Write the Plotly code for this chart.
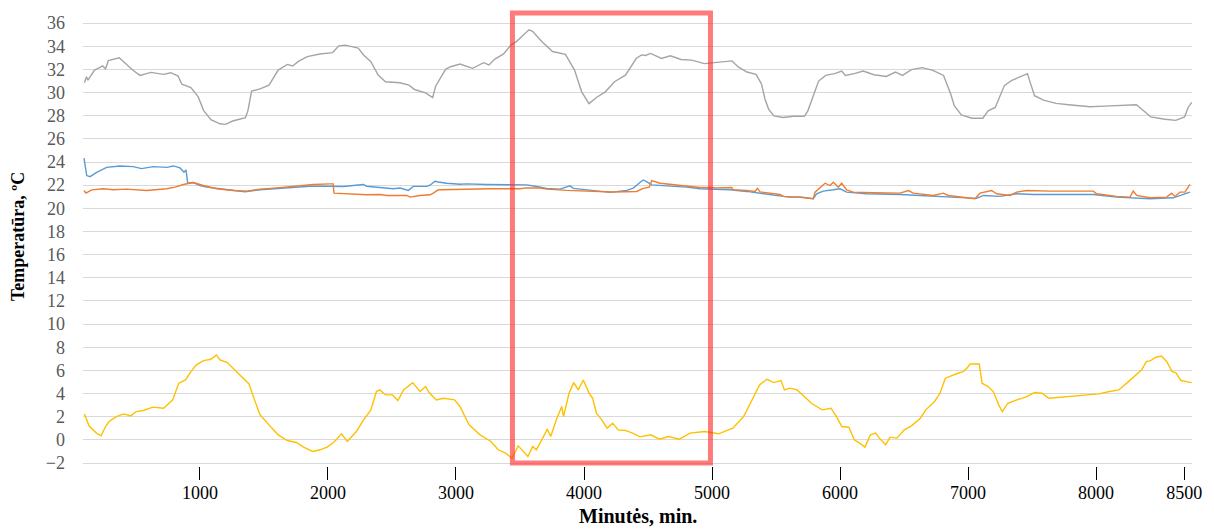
import plotly.graph_objects as go

# ---- data (minutes, temperature °C) ----
GRAY_T = [97, 113, 125, 176, 219, 238, 262, 284, 369, 403, 474, 531, 616, 716, 773, 829, 858, 929, 986, 1028,
          1085, 1156, 1199, 1255, 1355, 1375, 1403, 1469, 1539, 1611, 1682, 1724, 1766, 1838, 1937, 2036, 2085,
          2136, 2236, 2278, 2335, 2392, 2449, 2562, 2633, 2676, 2762, 2818, 2841, 2918, 2959, 3031, 3130, 3215,
          3258, 3301, 3372, 3430, 3472, 3570, 3598, 3670, 3754, 3855, 3926, 3982, 4039, 4097, 4167, 4238, 4324,
          4409, 4451, 4480, 4521, 4605, 4675, 4758, 4842, 4940, 5051, 5156, 5205, 5273, 5344, 5386, 5414, 5442,
          5484, 5554, 5638, 5721, 5749, 5790, 5833, 5888, 5958, 6014, 6041, 6112, 6181, 6265, 6362, 6433, 6488,
          6558, 6641, 6726, 6809, 6865, 6893, 6948, 7031, 7116, 7157, 7213, 7284, 7339, 7395, 7465, 7485, 7520,
          7590, 7688, 7786, 7953, 8065, 8204, 8316, 8372, 8427, 8539, 8623, 8692, 8720, 8748]
GRAY_V = [30.84, 31.36, 31.07, 31.94, 32.17, 32.3, 32.06, 32.75, 33.0, 32.67, 31.94, 31.48, 31.74, 31.57, 31.71,
          31.42, 30.72, 30.43, 29.62, 28.46, 27.65, 27.3, 27.25, 27.54, 27.83, 28.46, 30.12, 30.32, 30.64, 31.94,
          32.43, 32.29, 32.67, 33.1, 33.33, 33.45, 34.03, 34.09, 33.83, 33.25, 32.67, 31.51, 30.93, 30.84, 30.64,
          30.26, 29.97, 29.57, 30.55, 32.0, 32.23, 32.46, 32.09, 32.58, 32.38, 32.87, 33.33, 34.12, 34.4, 35.42,
          35.28, 34.4, 33.54, 33.3, 31.94, 30.06, 29.04, 29.57, 30.06, 30.93, 31.5, 32.96, 33.25, 33.2, 33.38,
          32.94, 33.17, 32.85, 32.8, 32.5, 32.59, 32.73, 32.21, 31.77, 31.57, 30.75, 29.44, 28.57, 27.98, 27.84,
          27.95, 27.95, 28.42, 29.73, 30.99, 31.48, 31.63, 31.86, 31.48, 31.63, 31.86, 31.54, 31.39, 31.77, 31.48,
          31.98, 32.15, 31.92, 31.48, 29.88, 28.86, 28.07, 27.78, 27.78, 28.42, 28.71, 30.6, 31.04, 31.33, 31.63,
          30.9, 29.73, 29.35, 29.06, 28.94, 28.77, 28.83, 28.86, 28.94, 28.42, 27.9, 27.69, 27.6, 27.9, 28.71,
          29.15]

BLUE_T = [94, 115, 141, 193, 271, 375, 479, 543, 635, 740, 792, 844, 875, 891, 904, 948, 1000, 1052, 1156, 1260,
          1352, 1469, 1599, 1729, 1859, 1990, 2120, 2276, 2302, 2406, 2510, 2562, 2615, 2628, 2666, 2771, 2797,
          2836, 2862, 2927, 3031, 3083, 3240, 3396, 3552, 3630, 3708, 3812, 3890, 3917, 4047, 4203, 4333, 4385,
          4437, 4463, 4489, 4529, 4646, 4802, 4906, 4958, 5141, 5271, 5349, 5401, 5531, 5600, 5688, 5791, 5817,
          5869, 5948, 6000, 6052, 6208, 6469, 6729, 6988, 7068, 7120, 7250, 7380, 7510, 7771, 7979, 8161, 8422,
          8604, 8708, 8734]
BLUE_V = [24.34, 22.83, 22.74, 23.11, 23.54, 23.66, 23.6, 23.43, 23.6, 23.54, 23.66, 23.49, 23.11, 23.31, 22.17,
          22.23, 21.97, 21.83, 21.69, 21.54, 21.43, 21.6, 21.69, 21.83, 21.91, 21.91, 21.89, 22.06, 21.91, 21.8,
          21.69, 21.75, 21.6, 21.55, 21.9, 21.9, 22.0, 22.34, 22.28, 22.17, 22.08, 22.11, 22.06, 22.03, 22.03,
          21.89, 21.72, 21.66, 21.94, 21.72, 21.55, 21.38, 21.55, 21.75, 22.23, 22.45, 22.31, 22.03, 21.94, 21.83,
          21.69, 21.68, 21.6, 21.46, 21.35, 21.3, 21.1, 20.97, 20.99, 20.83, 21.26, 21.49, 21.6, 21.69, 21.4,
          21.26, 21.2, 21.03, 20.86, 20.86, 21.11, 21.03, 21.26, 21.2, 21.2, 21.2, 20.97, 20.83, 20.91, 21.26,
          21.4]

ORANGE_T = [94, 109, 154, 245, 323, 427, 583, 740, 805, 870, 948, 1026, 1130, 1260, 1365, 1469, 1599, 1729, 1885,
            2016, 2040, 2047, 2172, 2302, 2406, 2459, 2615, 2641, 2719, 2797, 2823, 2862, 2887, 3057, 3266, 3500,
            3552, 3656, 3708, 3864, 4073, 4229, 4411, 4463, 4510, 4529, 4594, 4698, 4828, 4906, 4984, 5036, 5154,
            5166, 5271, 5336, 5355, 5375, 5531, 5557, 5688, 5791, 5805, 5857, 5883, 5922, 5948, 5987, 6013, 6052,
            6104, 6260, 6469, 6534, 6573, 6729, 6807, 6846, 6988, 7055, 7094, 7185, 7224, 7328, 7380, 7458, 7641,
            7979, 8005, 8161, 8266, 8291, 8318, 8422, 8552, 8591, 8617, 8656, 8695, 8721, 8734]
ORANGE_V = [21.54, 21.31, 21.6, 21.69, 21.6, 21.66, 21.54, 21.69, 21.83, 22.06, 22.23, 21.97, 21.69, 21.54, 21.49,
            21.66, 21.77, 21.89, 22.06, 22.11, 22.11, 21.31, 21.26, 21.17, 21.2, 21.11, 21.12, 20.97, 21.11, 21.17,
            21.32, 21.6, 21.6, 21.66, 21.69, 21.69, 21.77, 21.75, 21.66, 21.55, 21.44, 21.41, 21.46, 21.72, 21.83,
            22.39, 22.17, 22.06, 21.94, 21.8, 21.8, 21.77, 21.8, 21.6, 21.55, 21.45, 21.72, 21.42, 21.2, 21.03,
            20.95, 20.83, 21.4, 21.97, 22.17, 21.97, 22.26, 21.83, 22.17, 21.6, 21.4, 21.34, 21.31, 21.54, 21.31,
            21.11, 21.31, 21.11, 20.91, 20.83, 21.31, 21.54, 21.26, 21.11, 21.4, 21.54, 21.49, 21.49, 21.26, 21.03,
            20.97, 21.49, 21.11, 20.91, 20.97, 21.31, 21.03, 21.4, 21.4, 21.83, 22.06]

YELLOW_T = [97, 133, 191, 227, 262, 290, 347, 403, 459, 502, 558, 631, 716, 787, 834, 887, 929, 972, 1028, 1085,
            1128, 1156, 1213, 1284, 1327, 1383, 1426, 1469, 1539, 1611, 1682, 1753, 1810, 1880, 1937, 1994, 2051,
            2106, 2151, 2222, 2278, 2335, 2378, 2406, 2449, 2504, 2546, 2591, 2662, 2719, 2762, 2790, 2846, 2903,
            2988, 3031, 3102, 3188, 3273, 3330, 3387, 3438, 3486, 3528, 3562, 3599, 3628, 3670, 3713, 3740, 3784,
            3826, 3840, 3883, 3920, 3955, 3995, 4040, 4068, 4097, 4139, 4180, 4224, 4267, 4324, 4380, 4437, 4521,
            4591, 4661, 4745, 4828, 4940, 5051, 5163, 5247, 5316, 5372, 5428, 5484, 5539, 5566, 5609, 5665, 5721,
            5777, 5860, 5930, 5972, 6014, 6069, 6112, 6153, 6195, 6237, 6279, 6307, 6357, 6391, 6445, 6502, 6558,
            6628, 6670, 6739, 6781, 6823, 6879, 6921, 6963, 6991, 7017, 7088, 7110, 7157, 7198, 7240, 7268, 7311,
            7381, 7451, 7519, 7577, 7632, 7730, 7827, 7925, 8022, 8106, 8177, 8245, 8302, 8357, 8393, 8427, 8469,
            8511, 8553, 8594, 8623, 8664, 8706, 8748]
YELLOW_V = [2.25, 1.22, 0.59, 0.36, 1.16, 1.59, 2.02, 2.25, 2.08, 2.45, 2.54, 2.83, 2.74, 3.46, 4.9, 5.18, 5.9,
            6.48, 6.85, 6.97, 7.34, 6.91, 6.68, 5.9, 5.47, 4.84, 3.46, 2.17, 1.3, 0.44, -0.05, -0.22, -0.62, -0.99,
            -0.85, -0.62, -0.13, 0.53, -0.13, 0.73, 1.74, 2.6, 4.18, 4.32, 3.89, 3.89, 3.4, 4.32, 4.95, 4.18, 4.61,
            4.09, 3.46, 3.6, 3.46, 2.89, 1.3, 0.44, -0.13, -0.85, -1.14, -1.57, -0.51, -0.99, -1.43, -0.56, -0.85,
            0.01, 0.93, 0.3, 1.74, 2.89, 2.02, 4.03, 4.95, 4.32, 5.18, 4.03, 3.6, 2.31, 1.74, 1.02, 1.45, 0.87,
            0.82, 0.59, 0.27, 0.44, 0.07, 0.3, 0.07, 0.59, 0.73, 0.53, 1.02, 2.02, 3.46, 4.75, 5.24, 4.95, 5.13,
            4.32, 4.47, 4.32, 3.75, 3.17, 2.6, 2.74, 2.02, 1.16, 1.1, 0.01, -0.28, -0.62, 0.44, 0.59, 0.16, -0.42,
            0.24, 0.16, 0.87, 1.22, 1.88, 2.6, 3.32, 4.03, 5.33, 5.61, 5.76, 5.9, 6.19, 6.56, 6.56, 4.9, 4.61,
            4.18, 3.03, 2.45, 3.17, 3.46, 3.69, 4.09, 4.03, 3.6, 3.69, 3.8, 3.89, 3.98, 4.18, 4.32, 4.95, 5.47,
            6.05, 6.76, 6.85, 7.14, 7.25, 6.76, 5.9, 5.82, 5.13, 5.04, 4.95]

Y_TICKS = list(range(-2, 37, 2))
X_TICK_LABELS = ["1000", "2000", "3000", "4000", "5000", "6000", "7000", "8000", "8500"]
X_TICK_VALUES = [1000, 2000, 3000, 4000, 5000, 6000, 7000, 8000, 8690]
HIGHLIGHT = (3441, 4988, -2, 36.87)  # minutes from/to, temperature from/to
X_TITLE = "Minutės, min."
Y_TITLE = "Temperatūra, ºC"

SERIES = [
    (GRAY_T, GRAY_V, "#a5a5a5"),
    (BLUE_T, BLUE_V, "#5b9bd5"),
    (ORANGE_T, ORANGE_V, "#ed7d31"),
    (YELLOW_T, YELLOW_V, "#ffc000"),
]

fig = go.Figure()
for t, v, c in SERIES:
    fig.add_trace(go.Scatter(x=t, y=v, mode="lines", line=dict(color=c, width=1.4),
                             showlegend=False, hoverinfo="skip"))

fig.add_shape(type="rect", xref="x", yref="y",
              x0=HIGHLIGHT[0], x1=HIGHLIGHT[1], y0=HIGHLIGHT[2], y1=HIGHLIGHT[3],
              line=dict(color="rgba(255,40,40,0.62)", width=5), fillcolor="rgba(0,0,0,0)", layer="above")

fig.add_annotation(text=X_TITLE, xref="paper", yref="paper", x=0.5, y=0, yanchor="middle",
                   yshift=-50, showarrow=False,
                   font=dict(size=20, color="black", family="Liberation Serif", weight="bold"))
fig.add_annotation(text=Y_TITLE, xref="paper", yref="paper", x=0, y=0.5, xanchor="center",
                   xshift=-65, textangle=-90, showarrow=False,
                   font=dict(size=18, color="black", family="Liberation Serif", weight="bold"))

fig.update_layout(
    width=1214, height=530, autosize=False,
    margin=dict(l=83, r=22, t=8, b=64),
    paper_bgcolor="white", plot_bgcolor="white",
    font=dict(family="Liberation Serif", color="black"),
    xaxis=dict(range=[86, 8750], tickvals=X_TICK_VALUES, ticktext=X_TICK_LABELS, automargin=False,
               ticks="outside", ticklen=13, tickcolor="black", tickwidth=1, ticklabelstandoff=-3,
               showgrid=False, zeroline=False, showline=False,
               tickfont=dict(size=18, color="black", family="Liberation Serif")),
    yaxis=dict(range=[-2.25, 37.3], tickvals=Y_TICKS, showgrid=True, gridcolor="#d9d9d9", gridwidth=1,
               zeroline=False, showline=False, ticks="", ticklabelstandoff=17, automargin=False,
               tickfont=dict(size=18, color="#595959", family="Liberation Serif")),
)

fig.write_html("out.html")
